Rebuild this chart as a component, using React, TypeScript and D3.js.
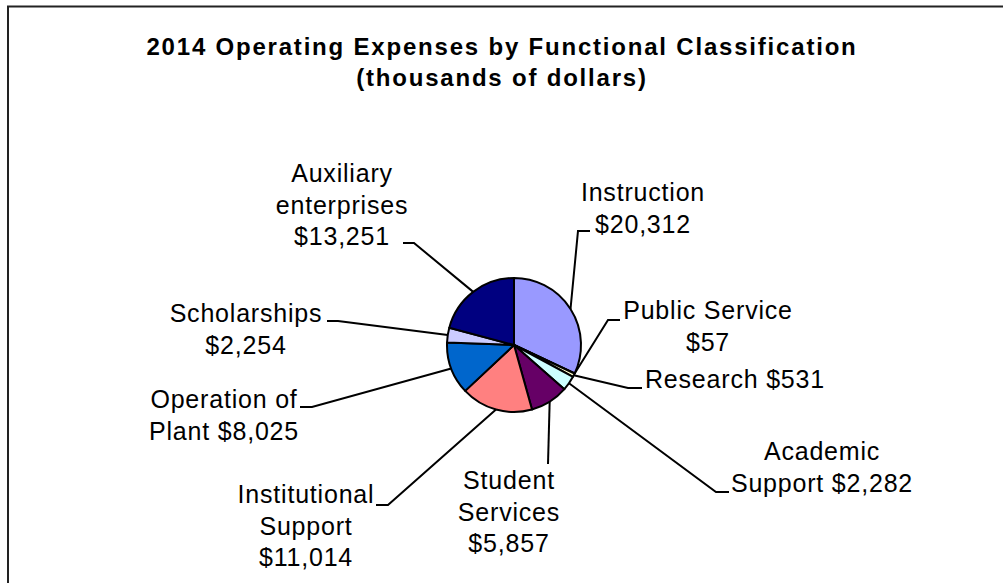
import { useEffect, useRef } from 'react';
import * as d3 from 'd3';

const categories = [
  'Instruction',
  'Public Service',
  'Research',
  'Academic Support',
  'Student Services',
  'Institutional Support',
  'Operation of Plant',
  'Scholarships',
  'Auxiliary enterprises',
];
const values = [20312, 57, 531, 2282, 5857, 11014, 8025, 2254, 13251];
const colors = ['#9999FF', '#993366', '#FFFFCC', '#CCFFFF', '#660066', '#FF8080', '#0066CC', '#CCCCFF', '#000080'];
// label text lines, as written on the chart
const labelLines = [
  ['Instruction', '$20,312'],
  ['Public Service', '$57'],
  ['Research $531'],
  ['Academic', 'Support $2,282'],
  ['Student', 'Services', '$5,857'],
  ['Institutional', 'Support', '$11,014'],
  ['Operation of', 'Plant $8,025'],
  ['Scholarships', '$2,254'],
  ['Auxiliary', 'enterprises', '$13,251'],
];

// where each label sits and where its leader line bends / ends
const labelLayout = [
  { x: 643, y: 201, anchor: 'middle', elbow: [578, 231], end: [590, 231] },
  { x: 708, y: 319, anchor: 'middle', elbow: [608, 320], end: [620, 320] },
  { x: 645, y: 388, anchor: 'start', elbow: [628, 388], end: [642, 388] },
  { x: 822, y: 460, anchor: 'middle', elbow: [716, 492], end: [729, 492] },
  { x: 509, y: 489, anchor: 'middle', elbow: [548, 464], end: [548, 464] },
  { x: 306, y: 503, anchor: 'middle', elbow: [388, 505], end: [376, 505] },
  { x: 224, y: 408, anchor: 'middle', elbow: [312, 407], end: [300, 407] },
  { x: 246, y: 322, anchor: 'middle', elbow: [338, 321], end: [327, 321] },
  { x: 342, y: 182, anchor: 'middle', elbow: [414, 243], end: [403, 243] },
];

const WIDTH = 1003;
const HEIGHT = 583;
const CX = 514;
const CY = 345;
const R = 67;

export default function App() {
  const ref = useRef<SVGSVGElement | null>(null);

  useEffect(() => {
    if (!ref.current) return;
    const svg = d3.select(ref.current);
    svg.selectAll('*').remove();

    // chart frame (runs off the right and bottom edges)
    svg.append('path')
      .attr('d', `M8,${HEIGHT + 2} L8,6.5 L${WIDTH + 2},6.5`)
      .attr('fill', 'none')
      .attr('stroke', '#222')
      .attr('stroke-width', 2);

    const title = svg.append('text')
      .attr('text-anchor', 'middle')
      .attr('font-family', '"Liberation Sans", Arial, sans-serif')
      .attr('font-weight', 'bold')
      .attr('font-size', 24)
      .attr('letter-spacing', 1.8)
      .attr('fill', '#000');
    title.append('tspan').attr('x', 502).attr('y', 55).text('2014 Operating Expenses by Functional Classification');
    title.append('tspan').attr('x', 502).attr('y', 86).text('(thousands of dollars)');

    const data = categories.map((name, i) => ({ name, value: values[i], i }));
    const arcs = d3.pie<any>().sort(null).value(d => d.value)(data);
    const arc = d3.arc<any>().innerRadius(0).outerRadius(R);
    const edge = d3.arc<any>().innerRadius(R).outerRadius(R);

    const g = svg.append('g').attr('transform', `translate(${CX},${CY})`);
    g.selectAll('path')
      .data(arcs)
      .join('path')
      .attr('d', arc)
      .attr('fill', d => colors[d.data.i])
      .attr('stroke', '#000')
      .attr('stroke-width', 2)
      .attr('stroke-linejoin', 'round');

    // leader lines
    svg.append('g')
      .selectAll('path')
      .data(arcs)
      .join('path')
      .attr('d', d => {
        const [px, py] = edge.centroid(d);
        const l = labelLayout[d.data.i];
        return `M${CX + px},${CY + py} L${l.elbow[0]},${l.elbow[1]} L${l.end[0]},${l.end[1]}`;
      })
      .attr('fill', 'none')
      .attr('stroke', '#000')
      .attr('stroke-width', 2);

    const labels = svg.append('g')
      .attr('font-family', '"Liberation Sans", Arial, sans-serif')
      .attr('font-size', 25)
      .attr('letter-spacing', 0.8)
      .attr('fill', '#000');
    data.forEach(d => {
      const l = labelLayout[d.i];
      const t = labels.append('text').attr('text-anchor', l.anchor);
      labelLines[d.i].forEach((line, k) => {
        t.append('tspan').attr('x', l.x).attr('y', l.y + k * 31.5).text(line);
      });
    });
  }, []);

  return (
    <svg
      ref={ref}
      width={WIDTH}
      height={HEIGHT}
      style={{ position: 'absolute', left: 0, top: 0, background: '#fff' }}
    />
  );
}
